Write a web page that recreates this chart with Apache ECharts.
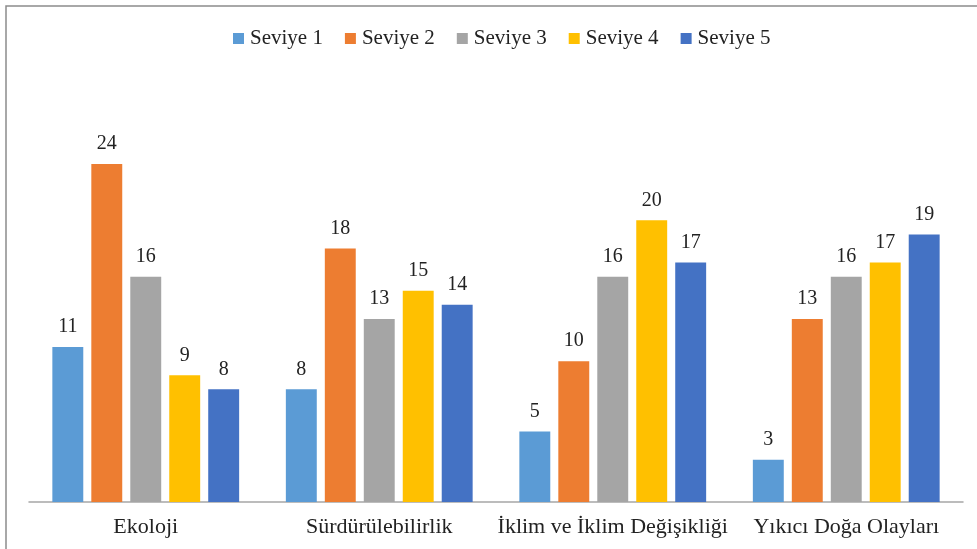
<!DOCTYPE html>
<html>
<head>
<meta charset="utf-8">
<script src="https://cdn.jsdelivr.net/npm/echarts@6/dist/echarts.min.js"></script>
<style>
html,body{margin:0;padding:0;background:#fff;}
#chart{width:977px;height:549px;}
</style>
</head>
<body>
<div id="chart"></div>
<script>
const categories = ['Ekoloji', 'Sürdürülebilirlik', 'İklim ve İklim Değişikliği', 'Yıkıcı Doğa Olayları'];
const seriesNames = ['Seviye 1', 'Seviye 2', 'Seviye 3', 'Seviye 4', 'Seviye 5'];
const seviye1 = [11, 8, 5, 3];
const seviye2 = [24, 18, 10, 13];
const seviye3 = [16, 13, 16, 16];
const seviye4 = [9, 15, 20, 17];
const seviye5 = [8, 14, 17, 19];
const colors = ['#5B9BD5', '#ED7D31', '#A5A5A5', '#FFC000', '#4472C4'];

const values = [seviye1, seviye2, seviye3, seviye4, seviye5];
const FONT = '"Liberation Serif", "Times New Roman", serif';

const chart = echarts.init(document.getElementById('chart'), null, {renderer: 'canvas'});
chart.setOption({
  animation: false,
  color: colors,
  graphic: [{
    type: 'polyline',
    shape: {points: [[6, 549], [6, 6], [977, 6]]},
    style: {stroke: '#8c8c8c', lineWidth: 1.5, fill: null}
  }],
  legend: {
    top: 23,
    left: 228,
    itemWidth: 11,
    itemHeight: 11,
    itemGap: 22,
    icon: 'rect',
    textStyle: {fontFamily: FONT, fontSize: 21, color: '#222', padding: [0, 0, 0, 1]},
    data: seriesNames
  },
  grid: {left: 29, right: 14, top: 164, bottom: 47, containLabel: false},
  xAxis: {
    type: 'category',
    data: categories,
    axisLine: {lineStyle: {color: '#a6a6a6', width: 1.5}},
    axisTick: {show: false},
    axisLabel: {fontFamily: FONT, fontSize: 22, color: '#222', margin: 14, interval: 0}
  },
  yAxis: {
    type: 'value',
    min: 0,
    max: 24,
    show: false,
    splitLine: {show: false}
  },
  series: seriesNames.map((name, i) => ({
    name: name,
    type: 'bar',
    data: values[i],
    barGap: '26%',
    barCategoryGap: '20%',
    itemStyle: {color: colors[i]},
    label: {
      show: true,
      position: 'top',
      distance: 10,
      fontFamily: FONT,
      fontSize: 20,
      color: '#222'
    }
  }))
});
</script>
</body>
</html>
